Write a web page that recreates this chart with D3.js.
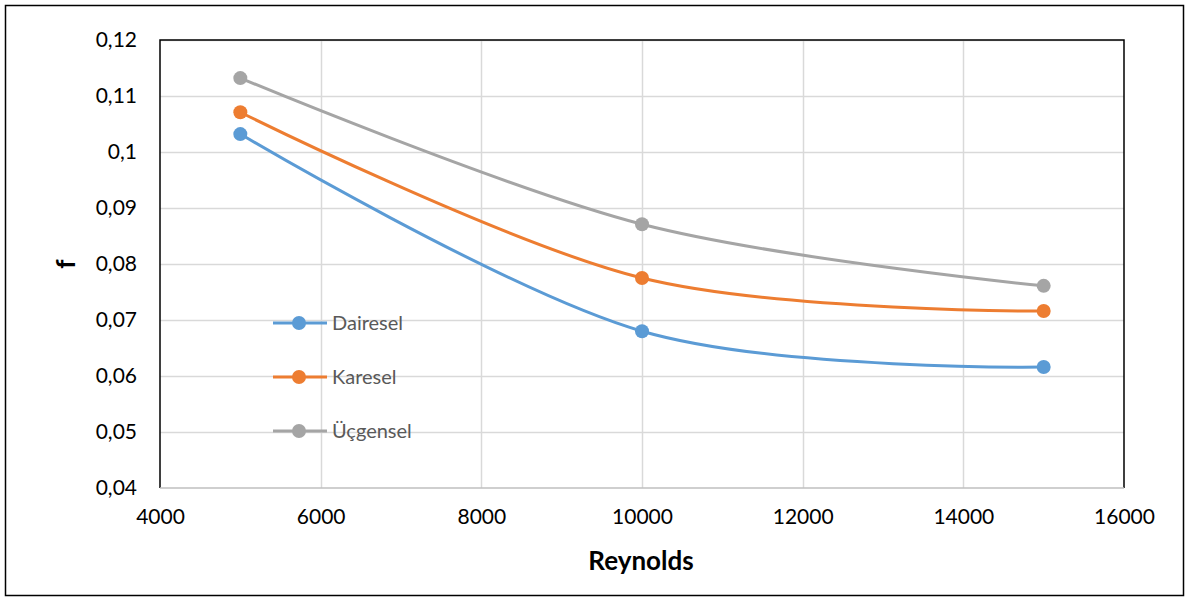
<!DOCTYPE html>
<html><head><meta charset="utf-8">
<script src="https://cdn.jsdelivr.net/npm/d3@7"></script>
<style>body{margin:0;background:#fff}svg{display:block}text{font-family:Lato,"Open Sans",sans-serif}</style>
</head><body>
<svg id="c" width="1189" height="599"></svg>
<script>
const reynolds = [5000, 10000, 15000];
const seriesNames = ["Dairesel", "Karesel", "Üçgensel"];
const dairesel = [0.1032, 0.0680, 0.0616];
const karesel = [0.1071, 0.0775, 0.0716];
const ucgensel = [0.1132, 0.0871, 0.0761];
const colors = ["#5b9bd5", "#ed7d31", "#a5a5a5"];
const xTicks = [4000, 6000, 8000, 10000, 12000, 14000, 16000];
const yTicks = [0.04, 0.05, 0.06, 0.07, 0.08, 0.09, 0.10, 0.11, 0.12];

const svg = d3.select("#c");
const L = 160, R = 1124, T = 40, B = 488;
const x = d3.scaleLinear().domain([4000, 16000]).range([L, R]);
const y = d3.scaleLinear().domain([0.04, 0.12]).range([B, T]);

svg.append("rect").attr("x", 5.5).attr("y", 5.5).attr("width", 1178).attr("height", 590)
  .attr("fill", "#fff").attr("stroke", "#000").attr("stroke-width", 1.5);

// gridlines
svg.append("g").selectAll("line").data(yTicks.slice(1)).join("line")
  .attr("x1", L).attr("x2", R).attr("y1", d => Math.round(y(d)) + 0.5).attr("y2", d => Math.round(y(d)) + 0.5)
  .attr("stroke", "#d9d9d9").attr("stroke-width", 1.5);
svg.append("g").selectAll("line").data(xTicks.slice(1, -1)).join("line")
  .attr("y1", T).attr("y2", B).attr("x1", d => Math.round(x(d)) + 0.5).attr("x2", d => Math.round(x(d)) + 0.5)
  .attr("stroke", "#d9d9d9").attr("stroke-width", 1.5);

// plot border
svg.append("path").attr("d", `M${L},${B}V${T}H${R}V${B}`).attr("fill", "none").attr("stroke", "#000").attr("stroke-width", 1.5);
svg.append("line").attr("x1", L).attr("x2", R).attr("y1", B).attr("y2", B).attr("stroke", "#bfbfbf").attr("stroke-width", 1.5);

// axes labels
const fmt = d => d3.format(".2~f")(d).replace(".", ",");
const yAxis = d3.axisLeft(y).tickValues(yTicks).tickSize(0).tickPadding(23).tickFormat(fmt);
const gy = svg.append("g").attr("transform", `translate(${L},0)`).call(yAxis);
gy.select(".domain").remove();
gy.selectAll("text").attr("font-size", 21).attr("fill", "#000").style("font-family", "Lato,'Open Sans',sans-serif");

const xAxis = d3.axisBottom(x).tickValues(xTicks).tickSize(0).tickPadding(21).tickFormat(d3.format("d"));
const gx = svg.append("g").attr("transform", `translate(0,${B})`).call(xAxis);
gx.select(".domain").remove();
gx.selectAll("text").attr("font-size", 21).attr("fill", "#000").style("font-family", "Lato,'Open Sans',sans-serif");

svg.append("text").attr("x", 641).attr("y", 570).attr("text-anchor", "middle")
  .attr("font-size", 26).attr("font-weight", "bold").text("Reynolds");
svg.append("text").attr("transform", "translate(75,264) rotate(-90)").attr("text-anchor", "middle")
  .attr("font-size", 26).attr("font-weight", "bold").text("f");

// series
const data = [dairesel, karesel, ucgensel];
const line = d3.line().x((d, i) => x(reynolds[i])).y(d => y(d)).curve(d3.curveCatmullRom.alpha(0));
data.forEach((vals, k) => {
  svg.append("path").datum(vals).attr("d", line).attr("fill", "none")
    .attr("stroke", colors[k]).attr("stroke-width", 3).attr("stroke-linecap", "round");
  svg.append("g").selectAll("circle").data(vals).join("circle")
    .attr("cx", (d, i) => x(reynolds[i])).attr("cy", d => y(d)).attr("r", 7).attr("fill", colors[k]);
});

// legend
const legY = [323, 377, 431];
seriesNames.forEach((n, k) => {
  const g = svg.append("g");
  g.append("line").attr("x1", 273).attr("x2", 327).attr("y1", legY[k]).attr("y2", legY[k])
    .attr("stroke", colors[k]).attr("stroke-width", 3);
  g.append("circle").attr("cx", 299).attr("cy", legY[k]).attr("r", 7).attr("fill", colors[k]);
  g.append("text").attr("x", 332).attr("y", legY[k] + 7).attr("font-size", 20).attr("fill", "#595959").text(n);
});
</script>
</body></html>
